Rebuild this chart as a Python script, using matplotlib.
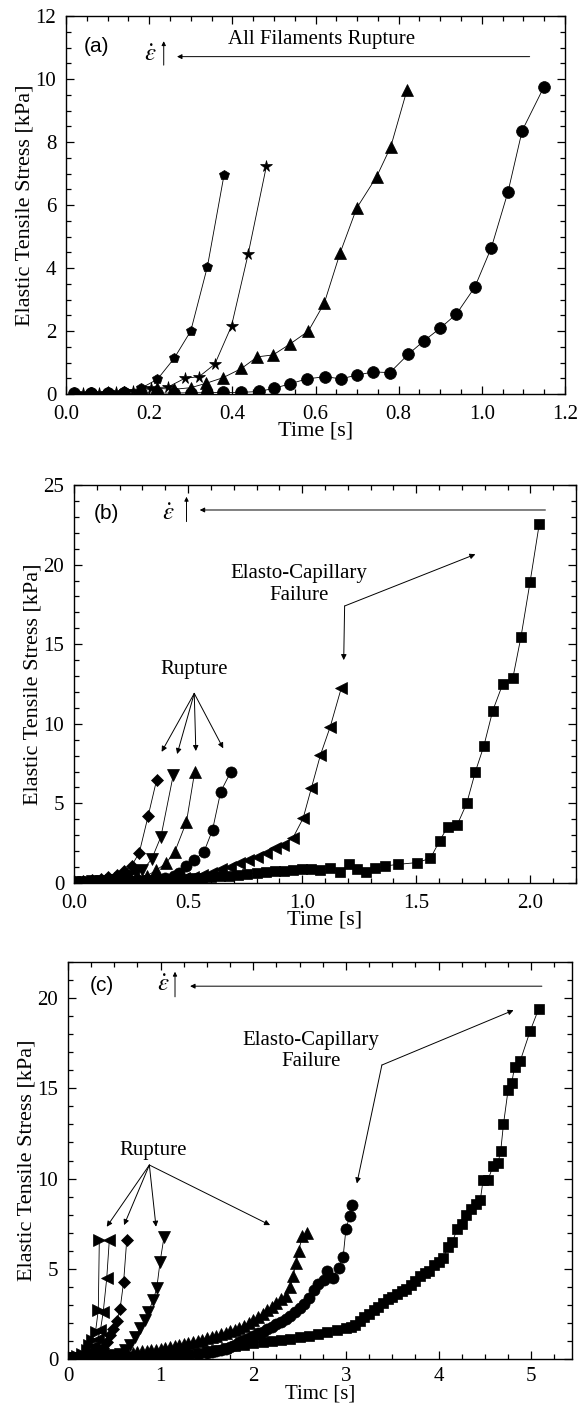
import matplotlib
matplotlib.use("Agg")
import matplotlib.pyplot as plt
from matplotlib.ticker import MultipleLocator, FormatStrFormatter

plt.rcParams['font.family'] = ['Liberation Serif', 'DejaVu Serif']
plt.rcParams['mathtext.fontset'] = 'stix'

# ---------------- Panel (a) data ----------------
a_pent_t = [0.02, 0.06, 0.10, 0.14, 0.18, 0.22, 0.26, 0.30, 0.34, 0.38]
a_pent_y = [0.03, 0.05, 0.07, 0.10, 0.18, 0.47, 1.13, 2.00, 4.04, 6.95]

a_star_t = [0.04, 0.08, 0.12, 0.16, 0.204, 0.245, 0.286, 0.32, 0.358, 0.398, 0.438, 0.482]
a_star_y = [0.03, 0.04, 0.06, 0.08, 0.20, 0.22, 0.50, 0.55, 0.95, 2.16, 4.44, 7.24]

a_tri_t = [0.02, 0.06, 0.10, 0.14, 0.18, 0.218, 0.26, 0.30, 0.337, 0.378, 0.422,
           0.46, 0.498, 0.538, 0.583, 0.621, 0.659, 0.699, 0.747, 0.781, 0.82]
a_tri_y = [0.03, 0.04, 0.05, 0.07, 0.10, 0.18, 0.15, 0.20, 0.34, 0.52, 0.81,
           1.18, 1.24, 1.58, 2.00, 2.88, 4.47, 5.90, 6.90, 7.85, 9.65]

a_circ_t = [0.02, 0.06, 0.10, 0.14, 0.18, 0.22, 0.26, 0.30, 0.34, 0.378, 0.42,
            0.464, 0.50, 0.538, 0.579, 0.624, 0.661, 0.699, 0.739, 0.779, 0.823,
            0.861, 0.899, 0.939, 0.983, 1.023, 1.063, 1.097, 1.149]
a_circ_y = [0.02, 0.02, 0.02, 0.02, 0.03, 0.03, 0.03, 0.04, 0.04, 0.05, 0.05,
            0.08, 0.18, 0.32, 0.48, 0.55, 0.48, 0.60, 0.70, 0.68, 1.26,
            1.69, 2.08, 2.54, 3.39, 4.65, 6.42, 8.36, 9.74]

# ---------------- Panel (b) data ----------------
b_sq_t = [0.00, 0.04, 0.08, 0.12, 0.16, 0.20, 0.24, 0.28, 0.32, 0.36, 0.40, 0.44,
          0.48, 0.52, 0.56, 0.60, 0.64, 0.68, 0.72, 0.76, 0.80, 0.84, 0.88, 0.92,
          0.96, 1.00, 1.04, 1.08, 1.12, 1.167, 1.205, 1.24, 1.278, 1.317, 1.365,
          1.419, 1.502, 1.562, 1.602, 1.638, 1.679, 1.721, 1.759, 1.796, 1.835,
          1.879, 1.923, 1.959, 1.999, 2.039]
b_sq_y = [0.05, 0.06, 0.07, 0.08, 0.10, 0.11, 0.13, 0.15, 0.17, 0.19, 0.21, 0.24,
          0.27, 0.30, 0.34, 0.38, 0.42, 0.47, 0.52, 0.57, 0.62, 0.68, 0.73, 0.78,
          0.82, 0.85, 0.90, 0.80, 0.92, 0.67, 1.17, 0.85, 0.67, 0.92, 1.07,
          1.17, 1.28, 1.55, 2.64, 3.54, 3.64, 5.00, 6.99, 8.60, 10.82,
          12.50, 12.86, 15.47, 18.93, 22.55]

b_left_t = [0.00, 0.04, 0.08, 0.12, 0.16, 0.20, 0.24, 0.28, 0.32, 0.36, 0.40, 0.44,
            0.48, 0.52, 0.56, 0.60, 0.646, 0.683, 0.722, 0.763, 0.80, 0.843, 0.88,
            0.916, 0.96, 1.004, 1.04, 1.08, 1.123, 1.171]
b_left_y = [0.05, 0.06, 0.07, 0.08, 0.09, 0.10, 0.12, 0.14, 0.16, 0.19, 0.22, 0.26,
            0.31, 0.38, 0.50, 0.62, 0.86, 1.03, 1.24, 1.44, 1.65, 1.90, 2.18,
            2.39, 2.85, 4.06, 5.95, 8.04, 9.82, 12.23]

b_dia_t = [0.00, 0.04, 0.08, 0.12, 0.15, 0.19, 0.22, 0.252, 0.286, 0.325, 0.362]
b_dia_y = [0.08, 0.12, 0.18, 0.25, 0.35, 0.50, 0.75, 1.07, 1.90, 4.21, 6.47]

b_down_t = [0.00, 0.04, 0.08, 0.12, 0.16, 0.20, 0.24, 0.27, 0.30, 0.34, 0.381, 0.435]
b_down_y = [0.05, 0.07, 0.10, 0.14, 0.20, 0.30, 0.45, 0.60, 0.80, 1.49, 2.91, 6.78]

b_up_t = [0.00, 0.04, 0.08, 0.12, 0.16, 0.20, 0.24, 0.28, 0.32, 0.36, 0.403, 0.442, 0.493, 0.529]
b_up_y = [0.05, 0.07, 0.09, 0.12, 0.16, 0.20, 0.26, 0.34, 0.45, 0.80, 1.24, 1.97, 3.85, 6.99]

b_circ_t = [0.00, 0.04, 0.08, 0.12, 0.16, 0.20, 0.24, 0.28, 0.32, 0.36, 0.40, 0.44,
            0.46, 0.493, 0.527, 0.570, 0.607, 0.643, 0.686]
b_circ_y = [0.05, 0.06, 0.07, 0.08, 0.09, 0.11, 0.13, 0.16, 0.20, 0.25, 0.30, 0.45,
            0.60, 1.06, 1.45, 1.97, 3.33, 5.74, 6.95]

# ---------------- Panel (c) data ----------------
c_sq_t = [0.00, 0.10, 0.20, 0.30, 0.40, 0.50, 0.60, 0.70, 0.80, 0.90, 1.00,
          1.10, 1.20, 1.30, 1.40, 1.50, 1.60, 1.70, 1.80, 1.90, 2.00,
          2.10, 2.20, 2.30, 2.40, 2.50, 2.60, 2.70, 2.80, 2.90, 3.00,
          3.05, 3.10, 3.15, 3.20, 3.25, 3.30, 3.35, 3.40, 3.45, 3.50,
          3.55, 3.60, 3.65, 3.70, 3.75, 3.80, 3.85, 3.90, 3.95, 4.00,
          4.05, 4.10, 4.15, 4.20, 4.25, 4.30, 4.35, 4.40, 4.45, 4.48,
          4.53, 4.59, 4.64, 4.67, 4.70, 4.75, 4.79, 4.82, 4.88, 4.99, 5.08]
c_sq_y = [0.05, 0.05, 0.05, 0.06, 0.07, 0.08, 0.09, 0.10, 0.12, 0.14, 0.16,
          0.20, 0.25, 0.30, 0.36, 0.42, 0.50, 0.60, 0.70, 0.80, 0.90,
          0.95, 1.00, 1.05, 1.10, 1.20, 1.30, 1.40, 1.50, 1.60, 1.70,
          1.80, 1.90, 2.10, 2.30, 2.50, 2.70, 2.90, 3.10, 3.30, 3.45,
          3.60, 3.75, 3.90, 4.10, 4.30, 4.60, 4.75, 4.90, 5.20, 5.35,
          5.60, 6.20, 6.50, 7.20, 7.50, 8.00, 8.30, 8.60, 8.80, 9.90,
          9.90, 10.70, 10.85, 11.50, 13.00, 14.90, 15.30, 16.20, 16.50, 18.20, 19.40]

c_up_t = [0.00, 0.05, 0.10, 0.15, 0.20, 0.25, 0.30, 0.35, 0.40, 0.45,
          0.50, 0.55, 0.60, 0.65, 0.70, 0.75, 0.80, 0.85, 0.90, 0.95,
          1.00, 1.05, 1.10, 1.15, 1.20, 1.25, 1.30, 1.35, 1.40, 1.45,
          1.50, 1.55, 1.60, 1.65, 1.70, 1.75, 1.80, 1.85, 1.90, 1.95,
          2.00, 2.05, 2.10, 2.15, 2.20, 2.25, 2.30, 2.35, 2.40,
          2.43, 2.46, 2.49, 2.53, 2.58]
c_up_y = [0.05, 0.05, 0.06, 0.07, 0.08, 0.09, 0.10, 0.11, 0.13, 0.15,
          0.17, 0.20, 0.24, 0.29, 0.35, 0.38, 0.42, 0.45, 0.48, 0.51,
          0.55, 0.60, 0.65, 0.70, 0.75, 0.82, 0.90, 0.96, 1.02, 1.08,
          1.15, 1.22, 1.30, 1.37, 1.45, 1.53, 1.62, 1.73, 1.85, 2.00,
          2.15, 2.35, 2.50, 2.70, 2.90, 3.10, 3.30, 3.50, 4.00,
          4.60, 5.30, 6.00, 6.80, 7.00]

c_circ_t = [0.00, 0.10, 0.20, 0.30, 0.40, 0.50, 0.60, 0.70, 0.80, 0.90,
            1.00, 1.10, 1.20, 1.30, 1.40, 1.50,
            1.55, 1.60, 1.65, 1.70, 1.75, 1.80, 1.85, 1.90, 1.95, 2.00,
            2.05, 2.10, 2.15, 2.20, 2.25, 2.30, 2.35, 2.40, 2.45, 2.50,
            2.55, 2.60, 2.65, 2.70,
            2.76, 2.80, 2.86, 2.92, 2.97, 3.00, 3.04, 3.07]
c_circ_y = [0.04, 0.04, 0.05, 0.05, 0.06, 0.07, 0.08, 0.09, 0.10, 0.12,
            0.14, 0.15, 0.18, 0.22, 0.28, 0.35,
            0.40, 0.45, 0.51, 0.58, 0.68, 0.80, 0.92, 1.05, 1.18, 1.30,
            1.42, 1.52, 1.65, 1.78, 1.92, 2.05, 2.20, 2.40, 2.60, 2.80,
            3.05, 3.40, 3.80, 4.15,
            4.40, 4.90, 4.50, 5.04, 5.68, 7.20, 7.90, 8.53]

c_down_t = [0.00, 0.08, 0.16, 0.24, 0.32, 0.40, 0.48, 0.56, 0.62, 0.67, 0.724,
            0.778, 0.832, 0.868, 0.92, 0.958, 0.994, 1.037]
c_down_y = [0.05, 0.06, 0.08, 0.10, 0.12, 0.15, 0.20, 0.30, 0.50, 0.80, 1.24,
            1.70, 2.16, 2.62, 3.27, 3.92, 5.39, 6.78]

c_dia_t = [0.00, 0.06, 0.12, 0.18, 0.24, 0.30, 0.34, 0.38, 0.42, 0.454, 0.49,
           0.526, 0.562, 0.60, 0.634]
c_dia_y = [0.05, 0.07, 0.10, 0.14, 0.20, 0.32, 0.45, 0.62, 0.95, 1.34, 1.65,
           2.08, 2.77, 4.25, 6.59]

c_right_t = [0.00, 0.05, 0.10, 0.15, 0.20, 0.23, 0.26, 0.297, 0.327, 0.338]
c_right_y = [0.05, 0.08, 0.15, 0.30, 0.50, 0.75, 1.05, 1.51, 2.71, 6.59]

c_left_t = [0.00, 0.06, 0.12, 0.18, 0.24, 0.28, 0.32, 0.35, 0.38, 0.418, 0.446]
c_left_y = [0.05, 0.08, 0.14, 0.25, 0.45, 0.70, 1.10, 1.60, 2.60, 4.47, 6.59]

# ---------------- Figure ----------------
W, H = 580, 1407
fig = plt.figure(figsize=(W / 100, H / 100), dpi=100)

def px_axes(l, r, t, b):
    return fig.add_axes([l / W, 1 - b / H, (r - l) / W, (b - t) / H])

axA = px_axes(66, 565, 16, 394)
axB = px_axes(74, 576, 485, 883)
axC = px_axes(68, 572, 962, 1359)

LW = 0.6
TICK_FS = 15
LABEL_FS = 16
ANN_FS = 15

def series(ax, t, y, marker, ms):
    ax.plot(t, y, color='black', lw=LW, marker=marker, ms=ms,
            mfc='black', mec='black', mew=0.5)

def style(ax, xmaj, xmin, ymaj, ymin, xfmt, yfmt, xpad=8):
    ax.xaxis.set_major_locator(MultipleLocator(xmaj))
    ax.xaxis.set_minor_locator(MultipleLocator(xmin))
    ax.yaxis.set_major_locator(MultipleLocator(ymaj))
    ax.yaxis.set_minor_locator(MultipleLocator(ymin))
    ax.xaxis.set_major_formatter(FormatStrFormatter(xfmt))
    ax.yaxis.set_major_formatter(FormatStrFormatter(yfmt))
    ax.tick_params(which='both', direction='in', top=True, right=True,
                   labelsize=TICK_FS, width=0.9)
    ax.tick_params(axis='x', which='major', pad=xpad)
    ax.tick_params(axis='y', which='major', pad=7)
    ax.tick_params(which='major', length=6)
    ax.tick_params(which='minor', length=3.5)
    for s in ax.spines.values():
        s.set_linewidth(1.0)
    ax.set_ylabel('Elastic Tensile Stress [kPa]', fontsize=LABEL_FS, labelpad=1)

def arrow(ax, xy, xytext, ms=8):
    ax.annotate('', xy=xy, xytext=xytext,
                arrowprops=dict(arrowstyle='-|>', lw=0.7, color='black',
                                mutation_scale=ms, shrinkA=0, shrinkB=0))

def rate_marker(ax, label_xy, eps_xy, up_x, up_y0, up_y1, hx0, hx1, hy):
    ax.text(label_xy[0], label_xy[1], label_xy[2], family=['Liberation Sans'],
            fontsize=15, ha='center', va='center')
    ax.text(eps_xy[0], eps_xy[1], r'$\dot{\varepsilon}$', fontsize=18,
            ha='center', va='center')
    arrow(ax, (up_x, up_y1), (up_x, up_y0), ms=6)
    arrow(ax, (hx1, hy), (hx0, hy), ms=7)

# Panel (a)
series(axA, a_pent_t, a_pent_y, 'p', 7.5)
series(axA, a_star_t, a_star_y, '*', 8.5)
series(axA, a_tri_t, a_tri_y, '^', 8)
series(axA, a_circ_t, a_circ_y, 'o', 8.5)
axA.set_xlim(0, 1.2)
axA.set_ylim(0, 12)
style(axA, 0.2, 0.05, 2, 0.5, '%.1f', '%d')
axA.set_xlabel('Time [s]', fontsize=LABEL_FS, labelpad=-2)
rate_marker(axA, (0.074, 11.03, '(a)'), (0.202, 10.76), 0.235, 10.44, 11.2,
            1.115, 0.267, 10.71)
axA.text(0.615, 11.24, 'All Filaments Rupture', fontsize=ANN_FS, ha='center', va='center')

# Panel (b)
series(axB, b_sq_t, b_sq_y, 's', 7)
series(axB, b_left_t, b_left_y, '<', 8.5)
series(axB, b_circ_t, b_circ_y, 'o', 8)
series(axB, b_up_t, b_up_y, '^', 8.5)
series(axB, b_down_t, b_down_y, 'v', 8.5)
series(axB, b_dia_t, b_dia_y, 'D', 6.5)
axB.set_xlim(0, 2.2)
axB.set_ylim(0, 25)
style(axB, 0.5, 0.1, 5, 1, '%.1f', '%d')
axB.set_xlabel('Time [s]', fontsize=LABEL_FS, labelpad=-2)
rate_marker(axB, (0.143, 23.2, '(b)'), (0.413, 23.2), 0.493, 22.7, 24.26,
            2.066, 0.551, 23.43)
axB.text(0.986, 18.75, 'Elasto-Capillary\nFailure', fontsize=ANN_FS, ha='center',
         va='center', linespacing=1.15)
arrow(axB, (1.759, 20.65), (1.186, 17.4))
arrow(axB, (1.182, 14.0), (1.186, 17.4))
axB.text(0.527, 13.38, 'Rupture', fontsize=ANN_FS, ha='center', va='center')
for tx, ty in [(0.384, 8.24), (0.452, 8.10), (0.534, 8.29), (0.654, 8.46)]:
    arrow(axB, (tx, ty), (0.527, 11.91))

# Panel (c)
series(axC, c_sq_t, c_sq_y, 's', 7.2)
series(axC, c_circ_t, c_circ_y, 'o', 8)
series(axC, c_up_t, c_up_y, '^', 8.5)
series(axC, c_down_t, c_down_y, 'v', 8.5)
series(axC, c_dia_t, c_dia_y, 'D', 6.5)
series(axC, c_right_t, c_right_y, '>', 8.5)
series(axC, c_left_t, c_left_y, '<', 8.5)
axC.set_xlim(0, 5.44)
axC.set_ylim(0, 22)
style(axC, 1, 0.25, 5, 1, '%d', '%d', xpad=6)
axC.set_xlabel('Timc [s]', fontsize=15, labelpad=-1)
rate_marker(axC, (0.364, 20.7, '(c)'), (1.03, 20.7), 1.155, 20.07, 21.46,
            5.115, 1.318, 20.66)
axC.text(2.62, 17.05, 'Elasto-Capillary\nFailure', fontsize=ANN_FS, ha='center',
         va='center', linespacing=1.15)
arrow(axC, (4.809, 19.33), (3.388, 16.29))
arrow(axC, (3.118, 9.73), (3.388, 16.29))
axC.text(0.921, 11.58, 'Rupture', fontsize=ANN_FS, ha='center', va='center')
for tx, ty in [(0.418, 7.33), (0.605, 7.42), (0.950, 7.33), (2.181, 7.42)]:
    arrow(axC, (tx, ty), (0.878, 10.75))

fig.savefig('out.png', dpi=100)
